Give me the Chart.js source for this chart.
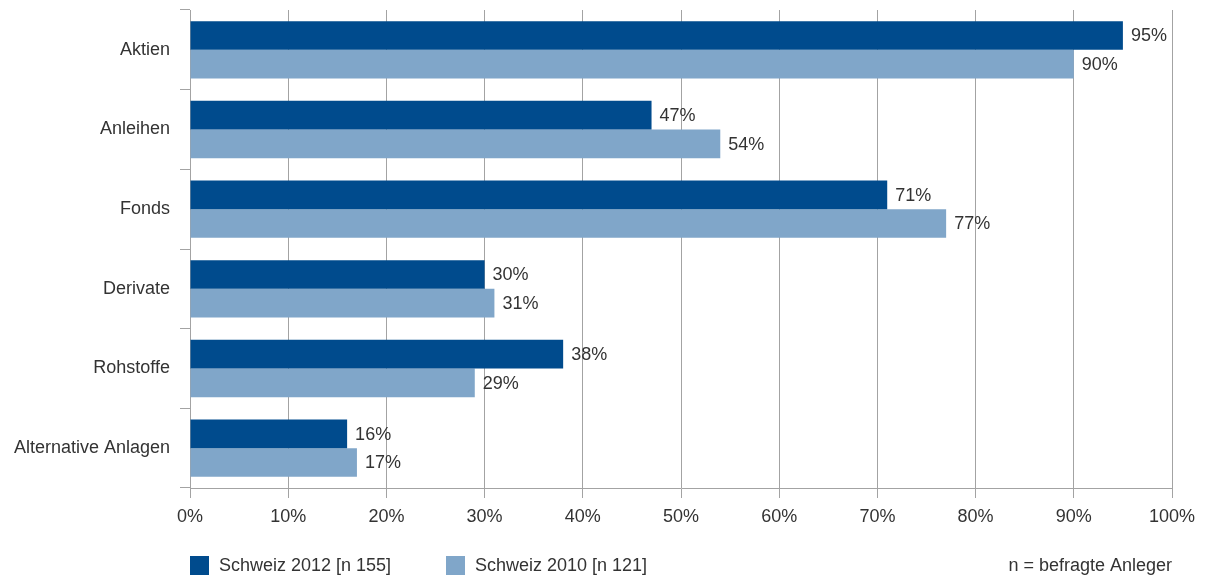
<!DOCTYPE html>
<html>
<head>
<meta charset="utf-8">
<script src="https://cdn.jsdelivr.net/npm/chart.js@4/dist/chart.umd.min.js"></script>
<style>
    html, body { margin: 0; padding: 0; background: #fff; }
    #wrap { width: 1205px; height: 578px; position: relative; }
</style>
</head>
<body>
<div id="wrap"><canvas id="anlagenChart"></canvas></div>
<script>
// Anlageklassen und Anteile (in %)
const categories = ['Aktien', 'Anleihen', 'Fonds', 'Derivate', 'Rohstoffe', 'Alternative Anlagen'];
const values2012 = [95, 47, 71, 30, 38, 16];
const values2010 = [90, 54, 77, 31, 29, 17];
const seriesNames = ['Schweiz 2012 [n 155]', 'Schweiz 2010 [n 121]'];
const seriesColors = ['#004b8d', '#80a6c9'];
const noteText = 'n = befragte Anleger';

const FONT = '"Liberation Sans", Arial, sans-serif';
const TEXT_COLOR = '#333333';
const GRID_COLOR = '#a3a3a3';

Chart.defaults.font.family = FONT;
Chart.defaults.font.size = 18;
Chart.defaults.color = TEXT_COLOR;

// Prozentwerte rechts neben den Balken
const valueLabels = {
    id: 'valueLabels',
    afterDatasetsDraw(chart) {
        const ctx = chart.ctx;
        ctx.save();
        ctx.font = '18px ' + FONT;
        ctx.fillStyle = TEXT_COLOR;
        ctx.textAlign = 'left';
        ctx.textBaseline = 'middle';
        chart.data.datasets.forEach((ds, i) => {
            chart.getDatasetMeta(i).data.forEach((bar, j) => {
                ctx.fillText(ds.data[j] + '%', bar.x + 8, bar.y + 1);
            });
        });
        ctx.restore();
    }
};

// Legende und Hinweis unten
const bottomLegend = {
    id: 'bottomLegend',
    afterDraw(chart) {
        const ctx = chart.ctx;
        const y = 566;
        const starts = [190, 446];
        ctx.save();
        ctx.font = '18px ' + FONT;
        ctx.fillStyle = TEXT_COLOR;
        ctx.textBaseline = 'middle';
        chart.data.datasets.forEach((ds, i) => {
            ctx.fillStyle = ds.backgroundColor;
            ctx.fillRect(starts[i], y - 10, 19, 19);
            ctx.fillStyle = TEXT_COLOR;
            ctx.textAlign = 'left';
            ctx.fillText(ds.label, starts[i] + 29, y);
        });
        ctx.textAlign = 'right';
        ctx.fillText(noteText, chart.chartArea.right, y);
        ctx.restore();
    }
};

new Chart(document.getElementById('anlagenChart'), {
    type: 'bar',
    data: {
        labels: categories,
        datasets: [{
            label: seriesNames[0],
            data: values2012,
            backgroundColor: seriesColors[0],
            categoryPercentage: 0.72,
            barPercentage: 1.0
        }, {
            label: seriesNames[1],
            data: values2010,
            backgroundColor: seriesColors[1],
            categoryPercentage: 0.72,
            barPercentage: 1.0
        }]
    },
    options: {
        indexAxis: 'y',
        responsive: true,
        maintainAspectRatio: false,
        animation: false,
        layout: {
            padding: { top: 10, right: 33, bottom: 0, left: 0 }
        },
        scales: {
            x: {
                min: 0,
                max: 100,
                ticks: {
                    stepSize: 10,
                    padding: 8,
                    callback: v => v + '%'
                },
                grid: {
                    color: GRID_COLOR,
                    lineWidth: 1,
                    tickLength: 10
                },
                border: { color: GRID_COLOR, width: 1 },
                afterFit: scale => { scale.height = 90; }
            },
            y: {
                ticks: { padding: 10 },
                grid: {
                    drawOnChartArea: false,
                    color: GRID_COLOR,
                    tickLength: 10
                },
                border: { color: GRID_COLOR, width: 1 },
                afterFit: scale => {
                    scale.width = 190;
                    // keine Zusatzabstände oben/unten für die Kategorienamen
                    scale.paddingTop = 0;
                    scale.paddingBottom = 0;
                }
            }
        },
        plugins: {
            legend: { display: false },
            tooltip: { enabled: false }
        }
    },
    plugins: [valueLabels, bottomLegend]
});
</script>
</body>
</html>
